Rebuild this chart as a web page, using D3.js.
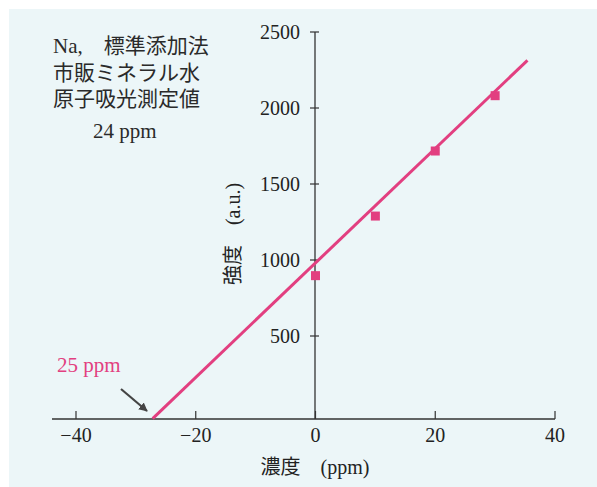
<!DOCTYPE html>
<html>
<head>
<meta charset="utf-8">
<script src="https://cdn.jsdelivr.net/npm/d3@7"></script>
<style>
  html, body { margin: 0; padding: 0; background: #ffffff; }
  svg { display: block; }
</style>
</head>
<body>
<svg id="chart" width="597" height="487"></svg>
<script>
// ---- data ----
const xTicks = [-40, -20, 0, 20, 40];
const yTicks = [500, 1000, 1500, 2000, 2500];
const concentrations = [0, 10, 20, 30];           // added standard (ppm)
const intensities = [897, 1289, 1717, 2081];       // a.u.
const fitX = [-27.2, 35.4];                         // drawn fit line extent (ppm)
const fitIntercept = 981;
const fitSlope = 37.65;
const infoLines = ["Na,\u3000標準添加法", "市販ミネラル水", "原子吸光測定値"];
const infoValue = "24 ppm";
const resultLabel = "25 ppm";
const xTitle = "濃度\u3000(ppm)";
const yTitle = "強度\u3000(a.u.)";

const svg = d3.select("#chart");
const serif = "'Liberation Serif', 'Noto Sans CJK JP', serif";
const ink = "#333";
const pink = "#e23f80";

// background
svg.append("rect").attr("x", 9).attr("y", 9).attr("width", 597).attr("height", 487)
  .attr("fill", "#ecf6f8");

const x = d3.scaleLinear().domain([-40, 40]).range([76, 555]);
const y = d3.scaleLinear().domain([0, 2500]).range([412, 32]);
const xAxisY = 419;
const yAxisX = 315;

// x axis
const gx = svg.append("g").attr("transform", `translate(0,${xAxisY})`);
gx.append("line").attr("x1", 52).attr("x2", x(40)).attr("stroke", ink).attr("stroke-width", 1.3);
gx.selectAll("line.tk").data(xTicks).join("line").attr("class", "tk")
  .attr("x1", d => x(d)).attr("x2", d => x(d)).attr("y1", 0).attr("y2", -8)
  .attr("stroke", ink).attr("stroke-width", 1.2);
gx.selectAll("text").data(xTicks).join("text")
  .attr("x", d => x(d)).attr("y", 23)
  .attr("text-anchor", "middle")
  .attr("font-family", serif).attr("font-size", 20).attr("fill", "#222")
  .text(d => d < 0 ? "\u2212" + Math.abs(d) : String(d));

// y axis
const gy = svg.append("g").attr("transform", `translate(${yAxisX},0)`);
gy.append("line").attr("y1", y(2500)).attr("y2", xAxisY).attr("stroke", ink).attr("stroke-width", 1.3);
gy.selectAll("line.tk").data(yTicks).join("line").attr("class", "tk")
  .attr("y1", d => y(d)).attr("y2", d => y(d)).attr("x1", -5).attr("x2", 4)
  .attr("stroke", ink).attr("stroke-width", 1.2);
gy.selectAll("text").data(yTicks).join("text")
  .attr("x", -15).attr("y", d => y(d)).attr("dy", "0.35em")
  .attr("text-anchor", "end")
  .attr("font-family", serif).attr("font-size", 20).attr("fill", "#222")
  .text(d => String(d));

// axis titles
svg.append("text").attr("x", 315).attr("y", 474).attr("text-anchor", "middle")
  .attr("font-family", serif).attr("font-size", 20).attr("fill", "#222").text(xTitle);
svg.append("text").attr("transform", "translate(233,234) rotate(-90)")
  .attr("text-anchor", "middle").attr("dy", "0.35em")
  .attr("font-family", serif).attr("font-size", 20).attr("fill", "#222").text(yTitle);

// fit line
const line = d3.line().x(d => x(d)).y(d => y(fitIntercept + fitSlope * d));
svg.append("path").datum(fitX).attr("d", line)
  .attr("fill", "none").attr("stroke", pink).attr("stroke-width", 3).attr("stroke-linecap", "butt");

// points
const sq = 9;
svg.selectAll("rect.pt").data(concentrations).join("rect").attr("class", "pt")
  .attr("x", (d) => x(d) - sq / 2).attr("y", (d, i) => y(intensities[i]) - sq / 2)
  .attr("width", sq).attr("height", sq).attr("fill", pink);

// info text
svg.selectAll("text.info").data(infoLines).join("text").attr("class", "info")
  .attr("x", 53).attr("y", (d, i) => 53 + i * 26.5)
  .attr("font-family", serif).attr("font-size", 21).attr("fill", "#2a2a2a").text(d => d);
svg.append("text").attr("x", 93).attr("y", 138)
  .attr("font-family", serif).attr("font-size", 21).attr("fill", "#2a2a2a").text(infoValue);

// result label and arrow
svg.append("text").attr("x", 57).attr("y", 372)
  .attr("font-family", serif).attr("font-size", 21).attr("fill", pink).text(resultLabel);
const defs = svg.append("defs");
defs.append("marker").attr("id", "ah").attr("viewBox", "0 0 10 10")
  .attr("refX", 9).attr("refY", 5).attr("markerWidth", 4).attr("markerHeight", 4)
  .attr("orient", "auto").attr("markerUnits", "strokeWidth")
  .append("path").attr("d", "M0,0 L10,5 L0,10 z").attr("fill", "#444");
svg.append("line").attr("x1", 121).attr("y1", 389).attr("x2", 147).attr("y2", 411)
  .attr("stroke", "#444").attr("stroke-width", 2.2).attr("marker-end", "url(#ah)");
</script>
</body>
</html>
